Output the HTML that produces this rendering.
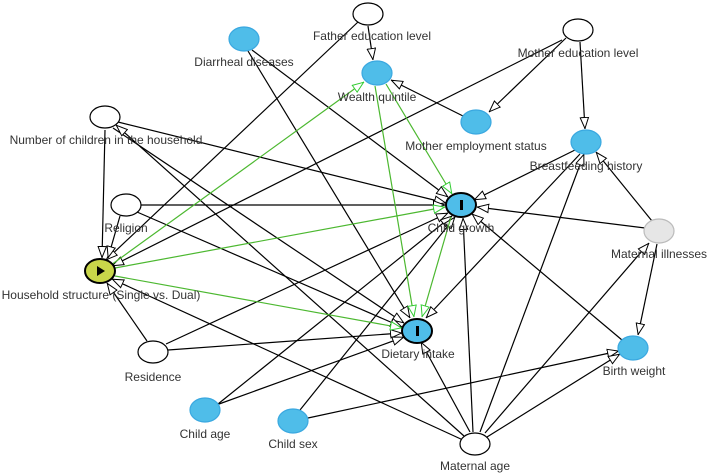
<!DOCTYPE html>
<html><head><meta charset="utf-8"><style>
html,body{margin:0;padding:0;background:#fff;}
svg{display:block;}
text{font-family:"Liberation Sans",Arial,sans-serif;font-size:12px;fill:#333;text-anchor:middle;}
</style></head><body>
<svg width="708" height="475" viewBox="0 0 708 475" xmlns="http://www.w3.org/2000/svg">
<defs>
<marker id="a" viewBox="0 0 12 10" refX="12" refY="5" markerWidth="12" markerHeight="10" markerUnits="userSpaceOnUse" orient="auto"><path d="M0.5,0.8 L11.5,5 L0.5,9.2 Z" fill="#fff" stroke="#000" stroke-width="1"/></marker>
<marker id="g" viewBox="0 0 12 10" refX="12" refY="5" markerWidth="12" markerHeight="10" markerUnits="userSpaceOnUse" orient="auto"><path d="M0.5,0.8 L11.5,5 L0.5,9.2 Z" fill="#fff" stroke="#3c3" stroke-width="1"/></marker>
</defs>
<g stroke="#000" stroke-width="1.2" fill="none" marker-end="url(#a)">
<line x1="368" y1="26" x2="373" y2="60"/>
<line x1="358" y1="22" x2="106" y2="260"/>
<line x1="252" y1="50" x2="448" y2="197"/>
<line x1="248" y1="51" x2="410" y2="318"/>
<line x1="566" y1="38" x2="489" y2="112"/>
<line x1="580" y1="42" x2="585" y2="129"/>
<line x1="562" y1="40" x2="112" y2="266"/>
<line x1="463" y1="116" x2="391" y2="80"/>
<line x1="105" y1="130" x2="102" y2="258"/>
<line x1="118" y1="122" x2="446" y2="203"/>
<line x1="113" y1="128" x2="404" y2="323"/>
<line x1="575" y1="150" x2="474" y2="200"/>
<line x1="580" y1="154" x2="426" y2="318"/>
<line x1="141" y1="205" x2="445" y2="205"/>
<line x1="137" y1="212" x2="402" y2="327"/>
<line x1="120" y1="216" x2="108" y2="258"/>
<line x1="645" y1="228" x2="477" y2="207"/>
<line x1="657" y1="244" x2="638" y2="335"/>
<line x1="652" y1="221" x2="596" y2="152"/>
<line x1="147" y1="341" x2="107" y2="283"/>
<line x1="168" y1="350" x2="402" y2="333"/>
<line x1="166" y1="344" x2="448" y2="213"/>
<line x1="218" y1="404" x2="452" y2="216"/>
<line x1="219" y1="404" x2="404" y2="337"/>
<line x1="300" y1="410" x2="455" y2="217"/>
<line x1="308" y1="418" x2="619" y2="351"/>
<line x1="622" y1="340" x2="472" y2="214"/>
<line x1="470" y1="432" x2="421" y2="342"/>
<line x1="473" y1="432" x2="463" y2="218"/>
<line x1="480" y1="432" x2="584" y2="154"/>
<line x1="485" y1="433" x2="649" y2="243"/>
<line x1="487" y1="437" x2="620" y2="354"/>
<line x1="463" y1="440" x2="112" y2="279"/>
<line x1="464" y1="436" x2="116" y2="125"/>
</g>
<g stroke="#4cb830" stroke-width="1.2" fill="none" marker-end="url(#g)">
<line x1="111" y1="265" x2="364" y2="82"/>
<line x1="115" y1="268" x2="445" y2="207"/>
<line x1="115" y1="276" x2="402" y2="328"/>
<line x1="375" y1="86" x2="414" y2="317"/>
<line x1="386" y1="84" x2="452" y2="194"/>
<line x1="451" y1="217" x2="422" y2="317"/>
</g>
<g stroke="#000" stroke-width="1.2">
<ellipse cx="368" cy="14" rx="15" ry="11" fill="#fff"/>
<ellipse cx="578" cy="30" rx="15" ry="11" fill="#fff"/>
<ellipse cx="105" cy="117" rx="15" ry="11" fill="#fff"/>
<ellipse cx="126" cy="205" rx="15" ry="11" fill="#fff"/>
<ellipse cx="153" cy="352" rx="15" ry="11" fill="#fff"/>
<ellipse cx="475" cy="444" rx="15" ry="11" fill="#fff"/>
</g>
<g fill="#4fbde9" stroke="#3aa8e0" stroke-width="1.2">
<ellipse cx="244" cy="39" rx="15" ry="12"/>
<ellipse cx="377" cy="73" rx="15" ry="12"/>
<ellipse cx="476" cy="122" rx="15" ry="12"/>
<ellipse cx="586" cy="142" rx="15" ry="12"/>
<ellipse cx="633" cy="348" rx="15" ry="12"/>
<ellipse cx="205" cy="410" rx="15" ry="12"/>
<ellipse cx="293" cy="421" rx="15" ry="12"/>
</g>
<ellipse cx="659" cy="231" rx="15" ry="12" fill="#e6e6e6" stroke="#bbb" stroke-width="1.2"/>
<ellipse cx="461" cy="205" rx="15" ry="12" fill="#4fbde9" stroke="#000" stroke-width="2"/>
<rect x="460" y="200" width="3" height="10" fill="#000"/>
<ellipse cx="417" cy="331" rx="15" ry="12" fill="#4fbde9" stroke="#000" stroke-width="2"/>
<rect x="416" y="326" width="3" height="10" fill="#000"/>
<ellipse cx="100" cy="271" rx="15" ry="12" fill="#c9d64a" stroke="#000" stroke-width="2"/>
<path d="M97,266 L105,271 L97,276 Z" fill="#000"/>
<text x="372" y="40">Father education level</text>
<text x="244" y="66">Diarrheal diseases</text>
<text x="377" y="101">Wealth quintile</text>
<text x="578" y="57">Mother education level</text>
<text x="106" y="144">Number of children in the household</text>
<text x="476" y="150">Mother employment status</text>
<text x="586" y="170">Breastfeeding history</text>
<text x="126" y="232">Religion</text>
<text x="461" y="232">Child growth</text>
<text x="659" y="258">Maternal illnesses</text>
<text x="101" y="299">Household structure (Single vs. Dual)</text>
<text x="153" y="381">Residence</text>
<text x="418" y="358">Dietary intake</text>
<text x="634" y="375">Birth weight</text>
<text x="205" y="438">Child age</text>
<text x="293" y="448">Child sex</text>
<text x="475" y="470">Maternal age</text>
</svg>
</body></html>
